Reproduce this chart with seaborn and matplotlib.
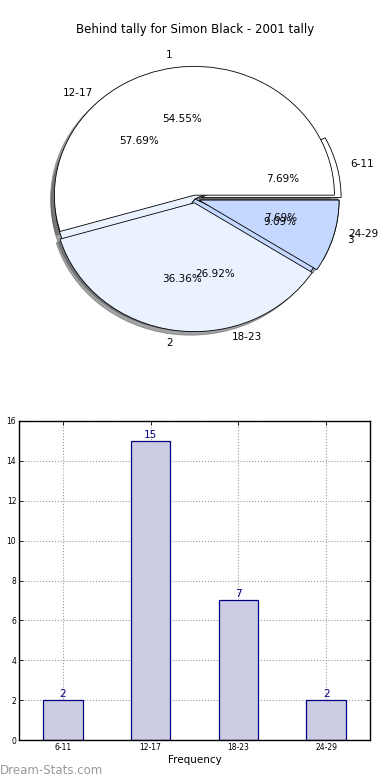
import matplotlib
matplotlib.use('Agg')
import matplotlib.pyplot as plt
import seaborn as sns
import pandas as pd
from matplotlib.patches import Shadow

# dados
faixas = ['6-11', '12-17', '18-23', '24-29']
frequencias = [2, 15, 7, 2]
grupos = ['1', '2', '3']
grupos_valores = [6, 4, 1]
cores = ['white', '#ebf2ff', '#c5d8ff']
yticks = [0, 2, 4, 6, 8, 10, 12, 14, 16]

sns.set_theme(style='white')
plt.rcParams['font.family'] = ['DejaVu Sans']
plt.rcParams['text.color'] = 'black'
plt.rcParams['axes.labelcolor'] = 'black'

fig = plt.figure(figsize=(3.9, 7.8), dpi=100)

# pizza (duas sobrepostas), eixo sem aspecto igual como no original
ax1 = fig.add_axes([20 / 390, (780 - 360) / 780, 350 / 390, 322 / 780])
w1, t1, p1 = ax1.pie(frequencias, labels=faixas, colors=cores + ['white'], autopct='%.2f%%',
                     explode=[0.045, 0, 0, 0.03], shadow=True,
                     wedgeprops={'edgecolor': 'black', 'linewidth': 0.6},
                     textprops={'fontsize': 7.5, 'color': 'black'})
w2, t2, p2 = ax1.pie(grupos_valores, labels=grupos, colors=cores, autopct='%.2f%%',
                     explode=[0.03, 0.03, 0.03], shadow=True,
                     wedgeprops={'edgecolor': 'black', 'linewidth': 0.6},
                     textprops={'fontsize': 7.5, 'color': 'black'})
for p in ax1.patches:
    if isinstance(p, Shadow):
        p.set_zorder(0.5)
for w in w1:
    w.set_zorder(1)
for w in w2:
    w.set_zorder(2)
ax1.set_aspect('auto')
ax1.set_xlim(-1.25, 1.25)
ax1.set_ylim(-1.25, 1.25)
fig.text(0.5, 1 - 30 / 780, 'Behind tally for Simon Black - 2001 tally',
         ha='center', va='center', fontsize=8.5)

# barras
df = pd.DataFrame({'faixa': faixas, 'freq': frequencias})
ax2 = fig.add_axes([19 / 390, 40 / 780, 351 / 390, 319 / 780])
sns.barplot(data=df, x='faixa', y='freq', ax=ax2, color='#cccce5', saturation=1,
            edgecolor='#000080', linewidth=0.9, width=0.45)
ax2.bar_label(ax2.containers[0], padding=1, color='#000080', fontsize=7.5)
ax2.set_xlim(-0.5, 3.5)
ax2.set_ylim(0, 16)
ax2.set_yticks(yticks)
ax2.grid(True, linestyle=':', color='#999999', linewidth=0.8)
ax2.set_axisbelow(True)
for s in ax2.spines.values():
    s.set_color('black')
    s.set_linewidth(1)
ax2.tick_params(direction='in', length=3, width=0.6, top=True, right=True,
                bottom=True, left=True, labelsize=5.5, pad=2, colors='black')
ax2.set_xlabel('Frequency', fontsize=7.5, labelpad=2)
ax2.set_ylabel('Number of Students', fontsize=7.5)
ax2.yaxis.set_label_coords(-0.055, 0.5)

fig.text(0.0, 1 - 771 / 780, 'Dream-Stats.com', ha='left', va='center',
         fontsize=8.5, color='#9a9a9a')

fig.savefig('out.png', dpi=100)
